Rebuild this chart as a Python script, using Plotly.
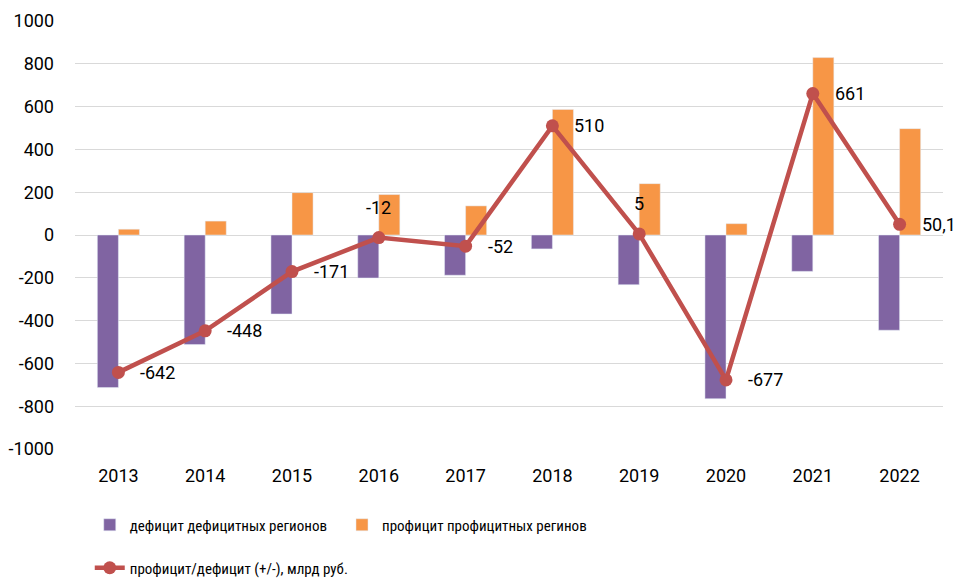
import plotly.graph_objects as go

years = ["2013", "2014", "2015", "2016", "2017", "2018", "2019", "2020", "2021", "2022"]
deficit = [-713, -512, -369, -201, -188, -65, -232, -765, -170, -445]
profit = [27, 65, 198, 189, 136, 587, 240, 53, 829, 497]
balance = [-642, -448, -171, -12, -52, 510, 5, -677, 661, 50.1]
balance_labels = ["-642", "-448", "-171", "-12", "-52", "510", "5", "-677", "661", "50,1"]
label_above = [False, False, False, True, False, False, True, False, False, False]
y_ticks = [-1000, -800, -600, -400, -200, 0, 200, 400, 600, 800, 1000]
y_tick_labels = ["-1000", "-800", "-600", "-400", "-200", "0", "200", "400", "600", "800", "1000"]

FONT = "Roboto"
LEGEND_FONT = "Liberation Sans Narrow, Roboto Condensed, DejaVu Sans Condensed, Roboto"

fig = go.Figure()
fig.add_trace(go.Bar(x=years, y=deficit, name="дефицит дефицитных регионов",
                     marker=dict(color="#8064A2"), legend="legend"))
fig.add_trace(go.Bar(x=years, y=profit, name="профицит профицитных регинов",
                     marker=dict(color="#F79646"), legend="legend2"))
fig.add_trace(go.Scatter(x=years, y=balance, name="профицит/дефицит (+/-), млрд руб.",
                         mode="lines+markers",
                         line=dict(color="#C0504D", width=4.5),
                         marker=dict(color="#C0504D", size=13),
                         legend="legend3", cliponaxis=False))

# on a category axis, annotation x is the category's serial number
annotations = []
for idx, (v, lab, above) in enumerate(zip(balance, balance_labels, label_above)):
    if above:
        annotations.append(dict(x=idx, y=v, xref="x", yref="y", text=lab, showarrow=False,
                                xanchor="center", yanchor="middle", yshift=30,
                                font=dict(family=FONT, size=18, color="#000000")))
    else:
        annotations.append(dict(x=idx, y=v, xref="x", yref="y", text=lab, showarrow=False,
                                xanchor="left", yanchor="middle", xshift=20,
                                font=dict(family=FONT, size=18, color="#000000")))

legend_common = dict(orientation="h", xanchor="left", yanchor="middle", itemwidth=30,
                     font=dict(family=LEGEND_FONT, size=15, color="#000000"),
                     bgcolor="rgba(0,0,0,0)")

fig.update_layout(
    width=958, height=578,
    margin=dict(l=75, r=15, t=21, b=129, autoexpand=False),
    paper_bgcolor="white", plot_bgcolor="white",
    barmode="group", bargap=0.515, bargroupgap=0,
    font=dict(family=FONT, size=18, color="#000000"),
    showlegend=True,
    legend=dict(x=0.017, y=-0.1776, **legend_common),
    legend2=dict(x=0.3076, y=-0.1776, **legend_common),
    legend3=dict(x=0.017, y=-0.278, **legend_common),
    annotations=annotations,
)
fig.update_xaxes(type="category", range=[-0.5, 9.5], showgrid=False, showline=False,
                 ticks="", ticklabelstandoff=14,
                 tickfont=dict(family=FONT, size=18, color="#000000"))
fig.update_yaxes(range=[-1000, 1000], tickvals=y_ticks, ticktext=y_tick_labels,
                 showgrid=True, gridcolor="#D9D9D9", gridwidth=1.3,
                 zeroline=True, zerolinecolor="#D9D9D9", zerolinewidth=1.3,
                 showline=False, ticks="", ticklabelstandoff=20,
                 tickfont=dict(family=FONT, size=18, color="#000000"))

fig.write_html("out.html", config={"displayModeBar": False},
               post_script="document.body.style.margin='0';document.body.style.overflow='hidden';")
